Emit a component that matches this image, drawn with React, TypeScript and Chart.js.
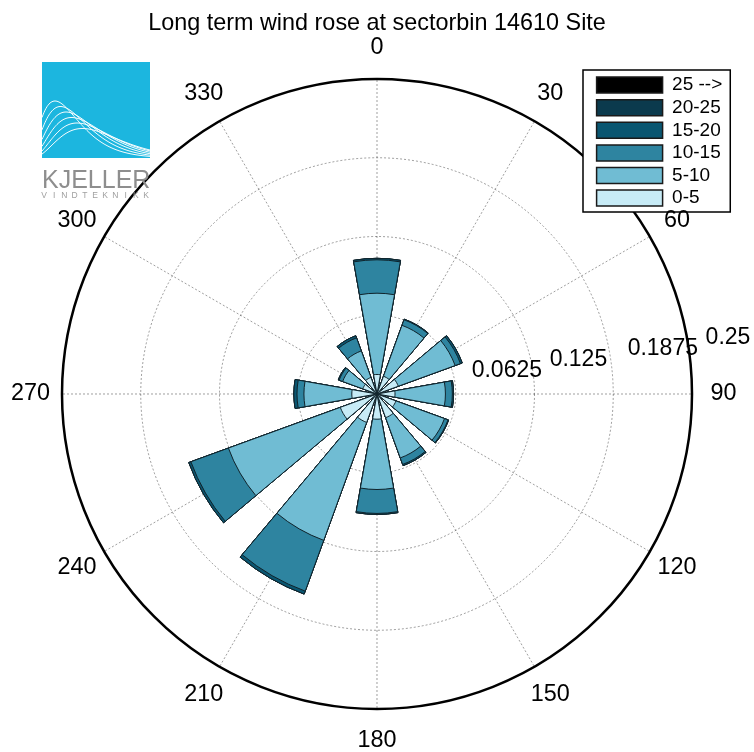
import React, { useEffect, useRef } from 'react';
import { Chart, registerables } from 'chart.js';

Chart.register(...registerables);

// ---- data ----
const chartTitle = 'Long term wind rose at sectorbin 14610 Site';
const directions = [0, 30, 60, 90, 120, 150, 180, 210, 240, 270, 300, 330];
const directionLabels = ['0', '30', '60', '90', '120', '150', '180', '210', '240', '270', '300', '330'];
const speedBins = ['0-5', '5-10', '10-15', '15-20', '20-25', '25 -->'];
const binColors = ['#c7ebf6', '#70bcd3', '#2e84a0', '#0a5671', '#0b3a4d', '#000000'];

// frequency per direction sector (not cumulative)
const freq0to5 = [0.0155, 0.015, 0.018, 0.0143, 0.016, 0.02, 0.02, 0.024, 0.031, 0.02, 0.012, 0.014];
const freq5to10 = [0.0645, 0.043, 0.048, 0.04, 0.041, 0.034, 0.0558, 0.0996, 0.0945, 0.038, 0.017, 0.0224];
const freq10to15 = [0.0265, 0.0047, 0.0045, 0.0055, 0.003, 0.0055, 0.019, 0.0429, 0.0317, 0.0055, 0.003, 0.011];
const freq15to20 = [0.0012, 0.0005, 0.0015, 0.001, 0.0005, 0.001, 0.0008, 0.0025, 0.0018, 0.0025, 0.0007, 0.0018];
const freq20to25 = [0, 0, 0, 0, 0, 0, 0, 0, 0, 0, 0, 0];
const freq25up = [0, 0, 0, 0, 0, 0, 0, 0, 0, 0, 0, 0];

const radialTickValues = [0.0625, 0.125, 0.1875, 0.25];
const radialTickLabels = ['0.0625', '0.125', '0.1875', '0.25'];

const FONT = "'Liberation Sans', Arial, Helvetica, sans-serif";
const BAR_ANGLE = 20;
const GAP_ANGLE = 10;

function buildDatasets() {
  const series = [freq0to5, freq5to10, freq10to15, freq15to20, freq20to25, freq25up];
  const cumulative = directions.map(() => 0);
  return series.map((s, b) => {
    const data: number[] = [];
    directions.forEach((_, d) => {
      cumulative[d] += s[d];
      data.push(cumulative[d]);
      data.push(0); // gap between sectors
    });
    return {
      label: speedBins[b],
      data,
      backgroundColor: (c: any) => (c.dataIndex % 2 === 0 ? binColors[b] : 'rgba(0,0,0,0)'),
      borderColor: '#10232b',
      borderWidth: (c: any) => (c.dataIndex % 2 === 0 ? 1 : 0),
      angle: (c: any) => (c.dataIndex % 2 === 0 ? BAR_ANGLE : GAP_ANGLE),
    };
  });
}

// 36 angular slots of 10 degrees, labels only every 30 degrees
const scaleLabels = Array.from({ length: 36 }, (_, i) => (i % 3 === 1 ? directionLabels[(i - 1) / 3] : ''));
const dataLabels = directions.flatMap((d) => [String(d), '']);

const logoPlugin = {
  id: 'logo',
  afterDraw(chart: any) {
    const ctx = chart.ctx;
    ctx.save();
    ctx.fillStyle = '#1cb6df';
    ctx.fillRect(42, 62, 108, 96);
    ctx.beginPath();
    ctx.rect(42, 62, 108, 96);
    ctx.clip();
    ctx.strokeStyle = 'rgba(255,255,255,0.95)';
    ctx.lineWidth = 1;
    for (let k = 0; k < 6; k++) {
      const up = 25 + 5.5 * k;
      const A = 57 - 5.5 * k;
      const p = 1.6 + 0.25 * k;
      ctx.beginPath();
      for (let x = 42; x <= 150; x += 1) {
        const u = x - 30;
        const y = 158 - A * Math.pow(u / up, p) * Math.exp(p * (1 - u / up));
        if (x === 42) ctx.moveTo(x, y);
        else ctx.lineTo(x, y);
      }
      ctx.stroke();
    }
    ctx.restore();
    ctx.save();
    ctx.fillStyle = '#8e8e8e';
    ctx.font = `25px ${FONT}`;
    ctx.textAlign = 'left';
    ctx.textBaseline = 'alphabetic';
    ctx.fillText('KJELLER', 42, 188);
    ctx.font = `8.5px ${FONT}`;
    ctx.fillStyle = '#a0a0a0';
    const sub = 'VINDTEKNIKK';
    const x0 = 44;
    const x1 = 146;
    for (let i = 0; i < sub.length; i++) {
      ctx.textAlign = 'center';
      ctx.fillText(sub[i], x0 + ((x1 - x0) * i) / (sub.length - 1), 198);
    }
    ctx.restore();
  },
};

// radial tick labels (MATLAB style: just off the 82-degree line) and
// direction labels centred at 1.1 x the outer radius
const axisTextPlugin = {
  id: 'axisText',
  afterDraw(chart: any) {
    const scale = chart.scales.r;
    const ctx = chart.ctx;
    const step = radialTickValues[0];
    const a = (8 * Math.PI) / 180;
    ctx.save();
    ctx.fillStyle = '#000';
    ctx.font = `23px ${FONT}`;
    ctx.textAlign = 'left';
    ctx.textBaseline = 'bottom';
    radialTickValues.forEach((v, i) => {
      const d = scale.getDistanceFromCenterForValue(v + step / 20);
      const x = scale.xCenter + d * Math.cos(a);
      const y = scale.yCenter - d * Math.sin(a);
      ctx.fillText('  ' + radialTickLabels[i], x, y);
    });
    ctx.font = `23.4px ${FONT}`;
    ctx.textAlign = 'center';
    ctx.textBaseline = 'middle';
    const outer = scale.getDistanceFromCenterForValue(scale.max);
    directionLabels.forEach((lab, i) => {
      const pos = scale.getPointPosition(3 * i + 1, outer * 1.1);
      ctx.fillText(lab, pos.x, pos.y);
    });
    ctx.restore();
  },
};

const LEG_LEFT = 593;
const LEG_TOP = 72;
const LEG_H = 145;

const legendPlacePlugin = {
  id: 'legendPlace',
  afterLayout(chart: any) {
    const lg = chart.legend;
    if (!lg) return;
    const w = lg.width;
    lg.left = LEG_LEFT;
    lg.top = LEG_TOP;
    lg.right = LEG_LEFT + w;
    lg.bottom = LEG_TOP + LEG_H;
    lg.height = LEG_H;
  },
  afterDraw(chart: any) {
    const lg = chart.legend;
    if (!lg) return;
    const ctx = chart.ctx;
    const opts = lg.options.labels;
    ctx.save();
    ctx.font = `${opts.font.size}px ${FONT}`;
    const maxText = Math.max(...speedBins.map((t) => ctx.measureText(t).width));
    const frameL = 583;
    const frameT = 70;
    const frameR = LEG_LEFT + opts.padding + opts.boxWidth + opts.font.size / 2 + maxText + 8;
    const frameB = 212;
    ctx.fillStyle = '#ffffff';
    ctx.fillRect(frameL, frameT, frameR - frameL, frameB - frameT);
    ctx.strokeStyle = '#000';
    ctx.lineWidth = 1.5;
    ctx.strokeRect(frameL, frameT, frameR - frameL, frameB - frameT);
    ctx.restore();
    lg.draw();
  },
};

export default function App() {
  const canvasRef = useRef<HTMLCanvasElement | null>(null);

  useEffect(() => {
    document.body.style.margin = '0';
    const canvas = canvasRef.current;
    if (!canvas) return;
    const chart = new Chart(canvas, {
      type: 'polarArea',
      data: {
        labels: dataLabels,
        datasets: buildDatasets() as any,
      },
      options: {
        responsive: false,
        animation: false,
        events: [],
        layout: { padding: { left: 0, right: 0, top: 0, bottom: 42.4 } },
        scales: {
          r: {
            type: 'radialLinear',
            min: 0,
            max: 0.25,
            startAngle: -9.9999,
            labels: scaleLabels,
            z: 1,
            ticks: { display: false, stepSize: 0.0625 },
            grid: {
              circular: true,
              color: (c: any) => (c.index === 4 ? '#000000' : 'rgba(0,0,0,0.38)'),
              lineWidth: (c: any) => (c.index === 4 ? 2.5 : 1),
            },
            border: { dash: (c: any) => (c.index === 4 ? [] : [2, 2]) },
            angleLines: {
              display: true,
              color: (c: any) => (c.index % 3 === 1 ? 'rgba(0,0,0,0.38)' : 'rgba(0,0,0,0)'),
              lineWidth: (c: any) => (c.index % 3 === 1 ? 1 : 0),
              borderDash: [2, 2],
            },
            pointLabels: { display: false },
          } as any,
        },
        plugins: {
          title: {
            display: true,
            text: chartTitle,
            color: '#000',
            font: { family: FONT, size: 23.4, weight: 'normal' },
            padding: { top: 10, bottom: 41.4 },
          },
          legend: {
            display: true,
            position: 'chartArea',
            align: 'start',
            labels: {
              color: '#000',
              font: { family: FONT, size: 19 },
              boxWidth: 66,
              boxHeight: 16,
              padding: 3.6,
              generateLabels: (ch: any) =>
                ch.data.datasets
                  .map((ds: any, i: number) => ({
                    text: ds.label,
                    fillStyle: binColors[i],
                    strokeStyle: '#1a1a1a',
                    lineWidth: 1.5,
                    hidden: false,
                    datasetIndex: i,
                  }))
                  .reverse(),
            },
          },
          tooltip: { enabled: false },
        },
      } as any,
      plugins: [legendPlacePlugin, axisTextPlugin, logoPlugin],
    });
    return () => chart.destroy();
  }, []);

  return (
    <div style={{ width: 754, height: 752 }}>
      <canvas ref={canvasRef} width={754} height={752} style={{ display: 'block' }} />
    </div>
  );
}
